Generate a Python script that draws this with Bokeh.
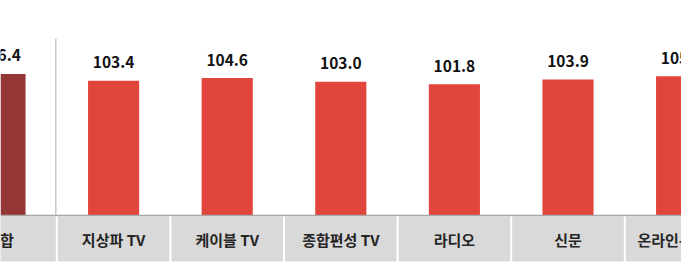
from bokeh.plotting import figure
from bokeh.models import Range1d, ColumnDataSource, Span
from bokeh.core.properties import value
from bokeh.embed import file_html
from bokeh.resources import INLINE

# ---- data ----
categories = ["종합", "지상파 TV", "케이블 TV", "종합편성 TV", "라디오", "신문", "온라인-모바일"]
values = [106.4, 103.4, 104.6, 103.0, 101.8, 103.9, 105.4]
labels = ["106.4", "103.4", "104.6", "103.0", "101.8", "103.9", "105.4"]

W, H = 681, 264
PX_X = 113.6          # pixels per category
PX_Y = 2.25           # pixels per value unit
BASE = 43.5           # value at baseline
BASE_PX = 215         # baseline pixel row (from top)

x_start = 0.5 / PX_X
x_end = x_start + W / PX_X
y_top = BASE + BASE_PX / PX_Y
y_bot = BASE - (H - BASE_PX) / PX_Y

p = figure(width=W, height=H, output_backend="svg", toolbar_location=None,
           x_range=Range1d(x_start, x_end), y_range=Range1d(y_bot, y_top),
           min_border=0, min_border_left=0, min_border_right=0,
           min_border_top=0, min_border_bottom=0)
p.axis.visible = False
p.grid.visible = False
p.outline_line_color = None
p.background_fill_color = "white"
p.border_fill_color = "white"

xs = list(range(len(categories)))
colors = ["#943634"] + ["#E1453C"] * (len(categories) - 1)
src = ColumnDataSource(dict(x=xs, v=values, lab=labels, cat=categories, c=colors,
                            l=[i - 0.5 + 1.0 / PX_X for i in xs],
                            r=[i + 0.5 - 1.0 / PX_X for i in xs]))

# category boxes
p.quad(left="l", right="r", top=BASE - 1.0 / PX_Y, bottom=BASE - 46.0 / PX_Y,
       source=src, fill_color="#D9D9D9", line_color=None)

# bars
p.vbar(x="x", width=0.45, bottom=BASE, top="v", source=src,
       fill_color="c", line_color=None)

# baseline
p.add_layout(Span(location=BASE, dimension="width", line_color="#A6A6A6", line_width=1.5))

# divider between total and media
p.segment(x0=[0.491], x1=[0.491], y0=[BASE], y1=[BASE + 177 / PX_Y],
          line_color="#C8C8C8", line_width=1.5)

# value labels
p.text(x="x", y="v", text="lab", source=src, text_align="center",
       text_baseline="alphabetic", y_offset=-18.5,
       text_font=value("Noto Sans CJK KR"), text_font_style="bold",
       text_font_size="15.5px", text_color="#111111")

# category labels
p.text(x="x", y=BASE - 24.3 / PX_Y, text="cat", source=src, text_align="center",
       text_baseline="middle",
       text_font=value("Noto Sans CJK KR"), text_font_style="bold",
       text_font_size="15px", text_color="#262626")

open("out.html", "w").write(file_html(p, INLINE))
